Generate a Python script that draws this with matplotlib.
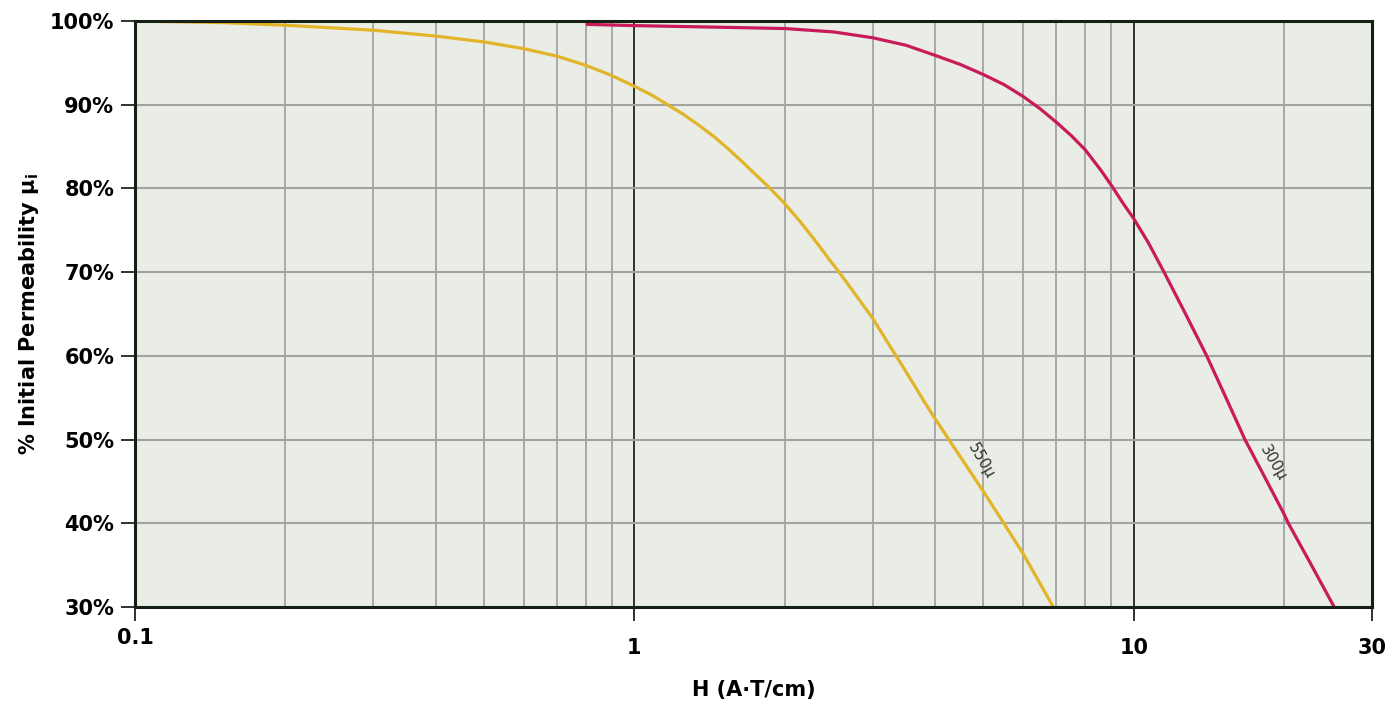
import numpy as np
import matplotlib.pyplot as plt
from matplotlib.ticker import FixedLocator, NullFormatter

plt.rcParams['font.family'] = ['DejaVu Sans']
plt.rcParams['font.weight'] = 'bold'
plt.rcParams['axes.labelweight'] = 'bold'

# 550u material
h_550 = [0.1, 0.15, 0.2, 0.3, 0.4, 0.5, 0.6, 0.7, 0.8, 0.9, 1.0, 1.08, 1.165, 1.25,
         1.35, 1.45, 1.55, 1.65, 1.76, 1.87, 2.0, 2.15, 2.3, 2.45, 2.57, 2.75, 3.0,
         3.2, 3.4, 3.6, 3.8, 4.0, 4.2, 4.5, 5.0, 5.48, 6.0, 6.45, 6.9]
p_550 = [100.0, 99.8, 99.5, 98.9, 98.2, 97.5, 96.7, 95.8, 94.7, 93.5, 92.2, 91.2, 90.0, 88.9,
         87.5, 86.1, 84.6, 83.1, 81.5, 80.0, 78.2, 76.0, 73.8, 71.6, 70.0, 67.6, 64.5,
         61.8, 59.3, 56.9, 54.6, 52.5, 50.6, 47.9, 43.8, 40.1, 36.4, 33.1, 30.0]

# 300u material
h_300 = [0.8, 1.0, 1.5, 2.0, 2.5, 3.0, 3.5, 4.0, 4.5, 5.0, 5.5, 6.0, 6.5, 7.0, 7.5, 8.0,
         8.6, 9.06, 9.5, 10.0, 10.7, 11.5, 12.7, 14.0, 15.3, 16.7, 18.3, 20.0, 20.4, 22.5, 25.2]
p_300 = [99.6, 99.45, 99.25, 99.1, 98.7, 98.0, 97.1, 95.9, 94.8, 93.6, 92.4, 91.0, 89.5, 87.9, 86.3, 84.6,
         82.15, 80.2, 78.3, 76.4, 73.5, 70.0, 65.0, 60.0, 55.0, 50.0, 45.5, 41.1, 40.0, 35.4, 30.0]

x_major = [0.1, 1, 10, 30]
x_major_labels = ['0.1', '1', '10', '30']
x_minor = [0.2, 0.3, 0.4, 0.5, 0.6, 0.7, 0.8, 0.9, 2, 3, 4, 5, 6, 7, 8, 9, 20]
y_ticks = [30, 40, 50, 60, 70, 80, 90, 100]

fig = plt.figure(figsize=(13.89, 7.06), dpi=100)
ax = fig.add_axes([135/1389, 1-607/706, 1237/1389, 586/706])
ax.set_facecolor('#eaede6')

ax.set_xscale('log')
ax.set_xlim(0.1, 30)
ax.set_ylim(30, 100)

# grid
for v in x_minor:
    ax.axvline(v, color='#a3a3a3', lw=1.3, zorder=1)
for v in [1, 10]:
    ax.axvline(v, color='#111111', lw=1.2, zorder=1)
for v in y_ticks[1:-1]:
    ax.axhline(v, color='#a3a3a3', lw=1.5, zorder=1)

ax.plot(h_550, p_550, color='#e2b42a', lw=2.3, zorder=3, solid_capstyle='butt')
ax.plot(h_300, p_300, color='#c91b59', lw=2.3, zorder=3, solid_capstyle='butt')

ax.text(4.95, 47.4, '550µ', rotation=-60, ha='center', va='center',
        fontsize=11, fontweight='normal', color='#333333', zorder=4)
ax.text(19.0, 47.2, '300µ', rotation=-60, ha='center', va='center',
        fontsize=11, fontweight='normal', color='#333333', zorder=4)

ax.xaxis.set_major_locator(FixedLocator(x_major))
ax.set_xticklabels(x_major_labels)
ax.xaxis.set_minor_locator(FixedLocator(x_minor))
ax.xaxis.set_minor_formatter(NullFormatter())
ax.tick_params(axis='x', which='minor', length=0)
ax.set_yticks(y_ticks)
ax.set_yticklabels([f'{v}%' for v in y_ticks])

ax.tick_params(axis='both', which='major', direction='out', length=10, width=1.3,
               color='#222222', labelsize=15)
ax.tick_params(axis='x', pad=12)
ax.tick_params(axis='y', pad=5)
ax.xaxis.get_major_ticks()[0].set_pad(5)

for s in ax.spines.values():
    s.set_color('#132013')
    s.set_linewidth(2.2)
    s.set_zorder(5)

ax.set_xlabel('H (A·T/cm)', fontsize=15, labelpad=16)
ax.set_ylabel('% Initial Permeability µ$_\\mathregular{i}$', fontsize=15, labelpad=6)

fig.savefig('out.png', dpi=100, facecolor='white')
